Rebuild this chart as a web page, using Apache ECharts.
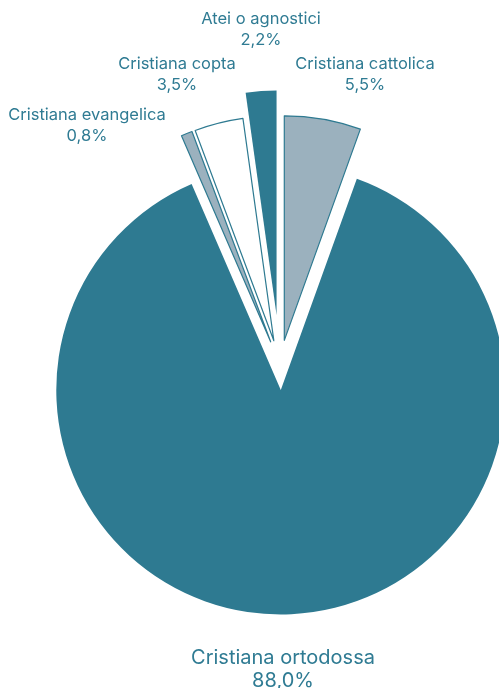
<!DOCTYPE html>
<html>
<head>
<meta charset="utf-8">
<title>Religioni</title>
<script src="https://cdn.jsdelivr.net/npm/echarts@6/dist/echarts.min.js"></script>
<style>
  html, body { margin: 0; padding: 0; background: #ffffff; }
  #chart { width: 499px; height: 688px; }
</style>
</head>
<body>
<div id="chart"></div>
<script>
// Religious affiliation shares (%), clockwise from the top
const categories = ['Cristiana cattolica', 'Cristiana ortodossa', 'Cristiana evangelica', 'Cristiana copta', 'Atei o agnostici'];
const shares = [5.5, 88.0, 0.8, 3.5, 2.2];

const DARK = '#2e7a91';
const LIGHT = '#9bb1be';
const TEXT = '#2f7b93';

// Slice appearance by category
const sliceStyle = {
  'Cristiana cattolica': { color: LIGHT, borderColor: DARK, borderWidth: 1.2 },
  'Cristiana ortodossa': { color: DARK, borderWidth: 0 },
  'Cristiana evangelica': { color: LIGHT, borderColor: DARK, borderWidth: 1.2 },
  'Cristiana copta': { color: '#ffffff', borderColor: DARK, borderWidth: 1.2 },
  'Atei o agnostici': { color: DARK, borderWidth: 0 }
};

// Label anchor points (text centre) for each category
const labelAnchor = {
  'Cristiana cattolica': [365, 75],
  'Cristiana ortodossa': [283, 669],
  'Cristiana evangelica': [87, 126],
  'Cristiana copta': [177, 75],
  'Atei o agnostici': [261, 30]
};

const HIDDEN = { color: 'rgba(0,0,0,0)', borderWidth: 0 };
const fmtPct = v => v.toFixed(1).replace('.', ',') + '%';
const CENTER = [280, 365];
const RADIUS = 224.5;

// Exploded slices; the "Atei" slice is pulled further out, so it lives in its own series
function sliceData(farOut) {
  return categories.map((name, i) => {
    const visible = farOut ? name === 'Atei o agnostici' : name !== 'Atei o agnostici';
    const style = visible ? sliceStyle[name] : HIDDEN;
    return {
      name: name,
      value: shares[i],
      selected: true,
      itemStyle: style,
      select: { itemStyle: style, label: { show: false } }
    };
  });
}

function slicesSeries(offset, farOut) {
  return {
    type: 'pie',
    center: CENTER,
    radius: [0, RADIUS],
    startAngle: 90,
    clockwise: true,
    selectedMode: 'multiple',
    selectedOffset: offset,
    silent: true,
    label: { show: false },
    labelLine: { show: false },
    emphasis: { disabled: true },
    data: sliceData(farOut)
  };
}

// Transparent copy of the pie that only carries the category labels
const labelSeries = {
  type: 'pie',
  center: CENTER,
  radius: [0, RADIUS],
  startAngle: 90,
  clockwise: true,
  silent: true,
  avoidLabelOverlap: false,
  itemStyle: HIDDEN,
  emphasis: { disabled: true },
  labelLine: { show: false },
  label: {
    show: true,
    position: 'outside',
    color: TEXT,
    fontFamily: 'Inter',
    fontSize: 16.5,
    lineHeight: 21,
    formatter: p => p.name + '\n' + fmtPct(p.value)
  },
  labelLayout: function (params) {
    const a = labelAnchor[categories[params.dataIndex]];
    return { x: a[0], y: a[1], align: 'center', verticalAlign: 'middle' };
  },
  data: categories.map((name, i) => ({
    name: name,
    value: shares[i],
    label: name === 'Cristiana ortodossa' ? { fontSize: 20, lineHeight: 23 } : {}
  }))
};

const chart = echarts.init(document.getElementById('chart'), null, { renderer: 'canvas' });
chart.setOption({
  animation: false,
  backgroundColor: '#ffffff',
  series: [
    slicesSeries(25, false),
    slicesSeries(50, true),
    labelSeries
  ]
});
</script>
</body>
</html>
